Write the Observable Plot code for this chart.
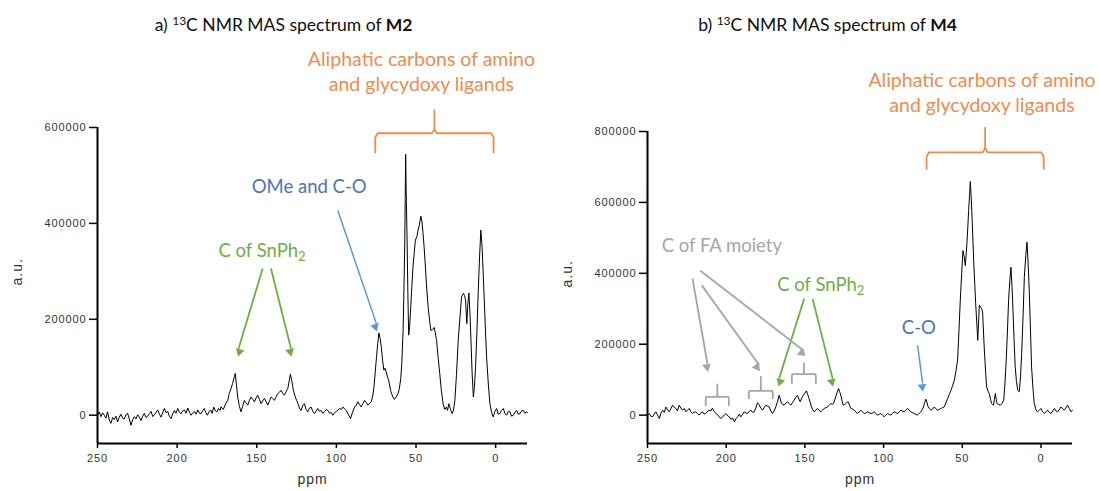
<!DOCTYPE html>
<html>
<head>
<meta charset="utf-8">
<script src="https://cdn.jsdelivr.net/npm/d3@7"></script>
<script src="https://cdn.jsdelivr.net/npm/@observablehq/plot@0.6"></script>
<style>
  body { margin: 0; background: #fff; }
  #wrap { display: flex; width: 1099px; height: 491px; overflow: hidden; }
  g[aria-label="y-axis tick label"] text, g[aria-label="x-axis tick label"] text { letter-spacing: 0.9px; }
  .axlbl text { letter-spacing: 1px; }
</style>
</head>
<body>
<div id="wrap"></div>
<script>
// ---------- data ----------
const xTicks = [250, 200, 150, 100, 50, 0];
const m2Ticks = [0, 200000, 400000, 600000];
const m4Ticks = [0, 200000, 400000, 600000, 800000];

// [ppm, a.u.]
const m2Spectrum = [[250,0],[248.9,7000],[247.9,-3000],[246.8,5000],[245.8,0],[244.7,-6000],[243.7,7000],[242.6,-10000],[241.6,-17000],[240.5,-5000],[239.5,-9000],[238.4,-2000],[237.4,-14000],[236.3,-4000],[235.3,2000],[234.2,-6000],[233.2,-8000],[232.1,1000],[231.1,4000],[230,-8000],[229,-21000],[227.9,-9000],[226.9,-3000],[225.8,-8000],[224.8,1000],[223.7,-4000],[222.7,-11000],[221.6,-2000],[220.6,4000],[219.5,-5000],[218.5,-2000],[217.4,3000],[216.4,8000],[215.3,-3000],[214.3,1000],[213.2,6000],[212.2,11000],[211.1,2000],[210.1,-4000],[209,6000],[208,14000],[207,5000],[205.9,8000],[204.9,-2000],[203.8,-7000],[202.8,3000],[201.7,10000],[200.7,4000],[199.6,14000],[198.6,6000],[197.5,3000],[196.5,9000],[195.4,11000],[194.4,4000],[193.3,15000],[192.3,6000],[191.2,0],[190.2,5000],[189.1,8000],[188.1,2000],[187,11000],[186,4000],[185,3000],[184,9000],[183,14000],[182,6000],[181,0],[180,7000],[179,11000],[178,4000],[177,17000],[176,9000],[175,7000],[174,14000],[173,10000],[172.5,17400],[171,12000],[169.4,24300],[168.3,30000],[167.3,45000],[166.2,55000],[165.2,66000],[164.1,80000],[163.5,87000],[162.8,65000],[162,38000],[161,20000],[159.9,7000],[158.9,18000],[157.8,31000],[156.8,26000],[155.7,21000],[154.7,30000],[153.6,38000],[152.5,33000],[151.5,28000],[150.4,36000],[149.4,42000],[148.3,33000],[147.3,24000],[146.2,30000],[145.2,35000],[144.1,28000],[143.1,21000],[142,30000],[141,38000],[140,35000],[138.9,31000],[137.9,38000],[136.8,45000],[135.7,48000],[134.7,52000],[133.6,45000],[132.6,42000],[131.5,50000],[130.5,56000],[129.6,72000],[128.9,85500],[128,72000],[127,52000],[126,40000],[125,31000],[124.2,25000],[123.2,15000],[122.2,10000],[121.1,20000],[120.1,24000],[119,12000],[118,7000],[116.9,15000],[115.9,17000],[114.8,8000],[113.8,3500],[112.7,9000],[111.7,14000],[110.6,8000],[109.6,10000],[108.5,3500],[107.5,7000],[106.4,12000],[105.4,10000],[104.3,4000],[103.3,6000],[102.2,0],[101.2,5000],[100.1,8000],[99.1,10000],[98,14000],[96.9,12000],[95.9,17000],[94.8,13000],[93.8,10000],[92.7,3000],[91.1,-7000],[90,5000],[88.6,17000],[87.5,21000],[86.5,28000],[85.4,22000],[84.4,17000],[83.3,25000],[82.3,31000],[81.2,26000],[80.2,21000],[79.1,25000],[78.1,28000],[77.2,40000],[76.4,59000],[75.6,90000],[74.8,122000],[74,150000],[73.3,171600],[72.5,160000],[71.8,142000],[71,115000],[70.2,94000],[69.5,98000],[68.7,90000],[67.9,80000],[67.2,73000],[66,52000],[65.2,44000],[64.5,38000],[63.7,33000],[63,35000],[62.1,40000],[61.3,45000],[60.5,55000],[59.6,76000],[58.9,110000],[58.1,177000],[57.6,260000],[57.1,351000],[56.8,450000],[56.5,544000],[56.2,470000],[55.6,365000],[55.1,250000],[54.6,167000],[54,185000],[53.3,226000],[52.6,270000],[51.9,309000],[51.1,340000],[50.4,365000],[49.5,372000],[48.7,386000],[47.8,398000],[47,415000],[46.3,405000],[45.6,379000],[44.9,350000],[44.1,309000],[43.3,265000],[42.4,226000],[41.5,198000],[40.7,177000],[39.7,178000],[38.6,183000],[37.9,172000],[37.1,156000],[36.1,120000],[35.1,87000],[34.1,52000],[33,24000],[31.9,12000],[30.9,17000],[30.2,10000],[29.4,24000],[28.3,12000],[27.3,3500],[26.5,10000],[25.6,31000],[24.6,85000],[23.5,156000],[22.4,205000],[21.4,247000],[20.2,254000],[19.5,250000],[18.9,240000],[18.1,191000],[17.5,230000],[16.8,255000],[16.1,210000],[15.5,156000],[14.8,90000],[14,38000],[13.3,60000],[12.6,101000],[11.7,180000],[10.9,261000],[10.1,330000],[9.3,386000],[8.5,350000],[7.8,295000],[6.8,210000],[5.7,122000],[4.6,65000],[3.6,24000],[2.5,5000],[1.5,-3500],[0.5,8000],[-0.6,14000],[-1.6,2000],[-2.7,3500],[-3.7,10000],[-4.8,14000],[-5.8,4000],[-6.9,0],[-8,8000],[-9,7000],[-10,-2000],[-11.1,0],[-12.1,6000],[-13.2,10000],[-14.2,2000],[-15.3,3500],[-16.3,9000],[-17.4,10000],[-18.4,4000],[-19.5,7000],[-20,5000]];

// [ppm, a.u.]
const m4Spectrum = [[250,0],[248.9,4700],[247.9,-3000],[246.8,-4700],[245.8,3000],[244.7,9400],[243.6,0],[242.5,-9400],[241.5,5000],[240.4,14000],[239.3,8000],[238.3,23000],[237.2,15000],[236.2,9400],[235.1,18000],[234.1,28000],[233,22000],[232,19000],[231,12000],[229.9,28000],[228.8,20000],[227.8,14000],[226.7,19000],[225.6,9400],[224.6,14000],[223.5,19000],[222.5,10000],[221.4,4700],[220.4,8000],[219.3,9400],[218.2,4000],[217.2,0],[216.1,6000],[215.1,9400],[214,3000],[213,4700],[211.9,10000],[210.9,14000],[209.8,12000],[208.8,19000],[207.7,11000],[206.6,4700],[205.6,2000],[204.5,-4700],[203.4,-9400],[202.4,-6000],[201.3,0],[200.1,4700],[199,-2000],[198,-4700],[197,-12000],[196,-8000],[194.8,-19000],[193.8,-10000],[192.7,-4700],[191.7,3000],[190.7,-4700],[189.6,2000],[188.6,9400],[187.5,6000],[186.5,4700],[185.5,10000],[184.4,14000],[183.3,8000],[182.2,9400],[181.2,20000],[180.1,35000],[179.2,30000],[178.4,23000],[177.6,18000],[176.9,14000],[175.8,22000],[174.8,28000],[173.7,25000],[172.7,23000],[171.7,12000],[170.6,4700],[169.5,12000],[168.5,23000],[167.4,38000],[166.4,56000],[165.6,45000],[164.9,33000],[164,30000],[163.2,28000],[162.1,34000],[161.1,37500],[160,33000],[159,28000],[158,35000],[156.9,42000],[155.8,50000],[154.7,56000],[153.8,45000],[153,37500],[152.3,45000],[151.6,52000],[150.3,60000],[149,68500],[148.2,58000],[147.4,47000],[146.6,35000],[145.8,23000],[145,15000],[144.1,9400],[143,14000],[142,19000],[141,14000],[139.9,9400],[138.8,14000],[137.8,19000],[136.7,21000],[135.7,23000],[134.6,28000],[133.5,33000],[132.7,30000],[131.8,33000],[131.1,42000],[130.4,52000],[129.5,65000],[128.6,75000],[127.9,66000],[127.2,56000],[126.4,40000],[125.7,28000],[124.8,30000],[124,33000],[123.3,36000],[122.5,37500],[121.6,28000],[120.8,19000],[119.7,17000],[118.7,14000],[117.6,9000],[116.6,4700],[115.5,9000],[114.4,14000],[113.4,9000],[112.3,4700],[111.3,6000],[110.2,9400],[109.2,7000],[108.1,4700],[107,6000],[106,9400],[104.9,4000],[103.9,0],[102.8,2000],[101.7,4700],[100.7,0],[99.6,-4700],[98.6,0],[97.5,4700],[96.5,2000],[95.4,0],[94.4,5000],[93.3,9400],[92.2,7000],[91.2,4700],[90.1,9000],[89.1,14000],[88,11000],[87,9400],[85.9,14000],[84.8,19000],[83.8,14000],[82.7,9400],[81.7,7000],[80.6,4700],[79.5,2000],[78.5,0],[77.4,5000],[76.4,9400],[75.5,15000],[74.7,23000],[73.9,35000],[73.2,45000],[72.4,35000],[71.7,23000],[70.8,18000],[70,14000],[68.9,17000],[67.8,23000],[66.8,18000],[65.7,14000],[64.6,16000],[63.6,19000],[62.5,21000],[61.5,23000],[60.4,35000],[59.3,47000],[58.3,58000],[57.2,70000],[56.1,84000],[55.1,98000],[54,125000],[53,155000],[52.1,240000],[51.3,324000],[50.4,400000],[49.6,464000],[48.8,446000],[48.1,422000],[47.6,450000],[47.1,483000],[46.5,530000],[46,577000],[45.4,620000],[44.9,659000],[44.3,610000],[43.8,558000],[42.8,436000],[41.5,314000],[40.8,260000],[40.2,211000],[39.7,260000],[39.2,310000],[38.4,305000],[37.7,300000],[37.1,291000],[36.6,240000],[36.1,192000],[35.3,130000],[34.6,80000],[33.7,68000],[32.9,61000],[32.1,45000],[31.4,33000],[30.8,30000],[30.2,28000],[29.6,45000],[29,61000],[28.5,45000],[28,33000],[26.9,30000],[25.9,28000],[24.8,33000],[23.7,42000],[22.9,90000],[22.1,155000],[21.3,240000],[20.6,324000],[19.8,380000],[19.1,417000],[18.4,360000],[17.8,295000],[17.1,210000],[16.4,136000],[15.6,95000],[14.8,70000],[13.8,66000],[13,110000],[12.3,174000],[11.4,280000],[10.6,389000],[9.7,450000],[8.9,488000],[8.1,420000],[7.4,342000],[6.7,240000],[6,136000],[5.1,75000],[4.3,33000],[3.2,15000],[2.2,9400],[1.1,14000],[0.1,19000],[-1,10000],[-2.1,4700],[-3.1,9000],[-4.2,14000],[-5.2,8000],[-6.3,4700],[-7.4,12000],[-8.5,19000],[-9.5,12000],[-10.6,9400],[-11.6,16000],[-12.7,23000],[-13.7,18000],[-14.8,14000],[-15.8,20000],[-16.9,28000],[-18,18000],[-19.1,9400],[-20,14000]];

// annotations (ppm, a.u.)
const m2Orange = [{text: "Aliphatic carbons of amino\nand glycydoxy ligands", x: 46.6, y: 718000}];
const m2Brace = {x0: 75.6, x1: 1.3, tip: 548000, bar: 588000, top: 636000};
const m2BlueText = [{text: "OMe and C-O", x: 117.1, y: 476000}];
const m2BlueArrows = [{x1: 99.1, y1: 427000, x2: 74.9, y2: 191000}];
const m2GreenText = [{text: "C of SnPh2", x: 146.7, y: 342000}];
const m2GreenArrows = [{x1: 146.3, y1: 306000, x2: 161.4, y2: 139000}, {x1: 141.1, y1: 306000, x2: 128.5, y2: 139000}];

const m4Orange = [{text: "Aliphatic carbons of amino\nand glycydoxy ligands", x: 37.5, y: 913000}];
const m4Brace = {x0: 72.7, x1: -1.7, tip: 695000, bar: 741000, top: 810000};
const m4BlueText = [{text: "C-O", x: 77.6, y: 245000}];
const m4BlueArrows = [{x1: 78.4, y1: 197000, x2: 75.2, y2: 89000}];
const m4GreenText = [{text: "C of SnPh2", x: 139.9, y: 366000}];
const m4GreenArrows = [{x1: 150.5, y1: 328000, x2: 166.4, y2: 103000}, {x1: 145.1, y1: 328000, x2: 132.4, y2: 103000}];
const m4GrayText = [{text: "C of FA moiety", x: 202.8, y: 478000}];
const m4GrayArrows = [{x1: 221.4, y1: 385000, x2: 211.9, y2: 145000}, {x1: 215.5, y1: 366000, x2: 179.3, y2: 143000}, {x1: 216.6, y1: 408000, x2: 150.5, y2: 181000}];
const m4GrayBrackets = [
  {x0: 213, x1: 198.3, tip: 28000, bar: 51500, top: 87000},
  {x0: 185.6, x1: 170.4, tip: 47800, bar: 68400, top: 107800},
  {x0: 158.3, x1: 143, tip: 90000, bar: 115400, top: 146000}
];

// ---------- drawing ----------
const ORANGE = "#ec8c4f", GREEN = "#70ad47", BLUE_T = "#4a74b8", BLUE_A = "#5b9bd5", GRAY = "#a6a6a6";
const ANN_FONT = "Lato, 'Open Sans', sans-serif";
const AX_FONT = "'Liberation Sans', Arial, sans-serif";

function bracePath(b, id) {
  const xm = (b.x0 + b.x1) / 2;
  const dxp = (b.x0 - b.x1) * 0.02;
  const dyv = (b.top - b.bar) * 0.18;
  return [
    [b.x0, b.tip], [b.x0, b.bar - dyv], [b.x0 - dxp, b.bar],
    [xm + dxp, b.bar], [xm, b.bar + dyv], [xm, b.top], [xm, b.bar + dyv], [xm - dxp, b.bar],
    [b.x1 + dxp, b.bar], [b.x1, b.bar - dyv], [b.x1, b.tip]
  ].map(p => ({x: p[0], y: p[1], id}));
}

function panel(cfg) {
  const yTop = cfg.yTicks[cfg.yTicks.length - 1];
  // pixels per data unit, to orient the filled arrow heads
  const kx = (cfg.width - cfg.marginLeft - cfg.marginRight) / 270;   // px per ppm (x reversed)
  const ky = (491 - cfg.marginTop - 48) / (cfg.yDomain[1] - cfg.yDomain[0]);
  function heads(arrows) {
    return arrows.map(a => {
      const dxp = -(a.x2 - a.x1) * kx, dyp = -(a.y2 - a.y1) * ky;
      const len = Math.hypot(dxp, dyp);
      const back = 3.2;
      return {
        x: a.x2 + (dxp / len) * back / kx,
        y: a.y2 - (dyp / len) * back / ky,
        rot: Math.atan2(dxp, -dyp) * 180 / Math.PI
      };
    });
  }
  function arrowMarks(arrows, color, sw) {
    return [
      Plot.link(arrows, {x1: "x1", y1: "y1", x2: "x2", y2: "y2", stroke: color, strokeWidth: sw}),
      Plot.dot(heads(arrows), {x: "x", y: "y", rotate: "rot", symbol: "triangle", r: 3.3, fill: color, stroke: "none"})
    ];
  }
  const marks = [
    Plot.ruleX([250], {y1: cfg.yDomain[0], y2: yTop, stroke: "#000", strokeWidth: 2}),
    Plot.ruleY([cfg.yDomain[0]], {x1: 250, x2: -20, stroke: "#000", strokeWidth: 2}),
    Plot.axisY({ticks: cfg.yTicks, tickSize: 8, tickPadding: 3, tickFormat: d => String(d), label: null,
      fontSize: 11, fill: "#333", stroke: "#000", strokeWidth: 1.5, fontFamily: AX_FONT}),
    Plot.axisX({ticks: xTicks, tickSize: 5, tickPadding: 6, tickFormat: d => String(d), label: null,
      fontSize: 11, fill: "#333", stroke: "#000", strokeWidth: 1.5, fontFamily: AX_FONT}),
    Plot.text(["a.u."], {text: d => d, frameAnchor: "left", dx: -80, rotate: -90, fontSize: 14, fill: "#333", fontFamily: AX_FONT, className: "axlbl"}),
    Plot.text(["ppm"], {text: d => d, frameAnchor: "bottom", dy: 40, fontSize: 14, fill: "#333", fontFamily: AX_FONT, className: "axlbl"}),
    Plot.text([cfg.title], {text: d => d, frameAnchor: "top-left", dx: cfg.titleDx, dy: cfg.titleDy, textAnchor: "middle",
      fontSize: 17.5, fill: "#111", fontFamily: ANN_FONT}),
    Plot.line(cfg.spectrum, {x: d => d[0], y: d => d[1], stroke: "#000", strokeWidth: 1}),
    Plot.line(bracePath(cfg.brace, 0), {x: "x", y: "y", stroke: ORANGE, strokeWidth: 1.8}),
    Plot.text(cfg.orange, {x: "x", y: "y", text: "text", fill: ORANGE, fontSize: 19.5, lineHeight: 1.28, fontFamily: ANN_FONT}),
    ...arrowMarks(cfg.blueArrows, BLUE_A, 1.5),
    Plot.text(cfg.blueText, {x: "x", y: "y", text: "text", fill: BLUE_T, fontSize: 18.5, fontFamily: ANN_FONT}),
    ...arrowMarks(cfg.greenArrows, GREEN, 1.8),
    Plot.text(cfg.greenText, {x: "x", y: "y", text: "text", fill: GREEN, fontSize: 18.5, fontFamily: ANN_FONT})
  ];
  if (cfg.grayText) {
    marks.push(
      ...arrowMarks(cfg.grayArrows, GRAY, 1.8),
      Plot.text(cfg.grayText, {x: "x", y: "y", text: "text", fill: GRAY, fontSize: 18.5, fontFamily: ANN_FONT}),
      Plot.line(cfg.grayBrackets.flatMap((b, i) => bracePath(b, i)), {x: "x", y: "y", z: "id", stroke: GRAY, strokeWidth: 1.8})
    );
  }
  const svg = Plot.plot({
    width: cfg.width, height: 491,
    marginLeft: cfg.marginLeft, marginRight: cfg.marginRight, marginTop: cfg.marginTop, marginBottom: 48,
    x: {domain: [250, -20], axis: null},
    y: {domain: [cfg.yDomain[0], cfg.yDomain[1]], axis: null},
    style: {background: "#fff", overflow: "visible"},
    marks
  });
  // rich text: superscript / bold / subscript
  d3.select(svg).selectAll("text").each(function () {
    const t = this.textContent;
    let m = t.match(/^([ab]\) )13(C NMR MAS spectrum of )(M\d)$/);
    if (m) {
      const s = d3.select(this); s.text("");
      s.append("tspan").text(m[1]);
      s.append("tspan").attr("font-size", 12).attr("dy", -6).text("13");
      s.append("tspan").attr("dy", 6).text(m[2]);
      s.append("tspan").attr("font-weight", "bold").text(m[3]);
      return;
    }
    if (t === "C of SnPh2") {
      const s = d3.select(this); s.text("");
      s.append("tspan").text("C of SnPh");
      s.append("tspan").attr("font-size", 13).attr("dy", 4).text("2");
    }
  });
  return svg;
}

const wrap = document.getElementById("wrap");
wrap.append(panel({
  width: 550, marginLeft: 97, marginRight: 23, marginTop: 127,
  yDomain: [-59000, 600000], yTicks: m2Ticks, spectrum: m2Spectrum,
  title: "a) 13C NMR MAS spectrum of M2", titleDx: 186, titleDy: -109,
  orange: m2Orange, brace: m2Brace, blueText: m2BlueText, blueArrows: m2BlueArrows,
  greenText: m2GreenText, greenArrows: m2GreenArrows
}));
wrap.append(panel({
  width: 549, marginLeft: 97, marginRight: 27, marginTop: 131,
  yDomain: [-80000, 800000], yTicks: m4Ticks, spectrum: m4Spectrum,
  title: "b) 13C NMR MAS spectrum of M4", titleDx: 180, titleDy: -113,
  orange: m4Orange, brace: m4Brace, blueText: m4BlueText, blueArrows: m4BlueArrows,
  greenText: m4GreenText, greenArrows: m4GreenArrows,
  grayText: m4GrayText, grayArrows: m4GrayArrows, grayBrackets: m4GrayBrackets
}));
</script>
</body>
</html>
